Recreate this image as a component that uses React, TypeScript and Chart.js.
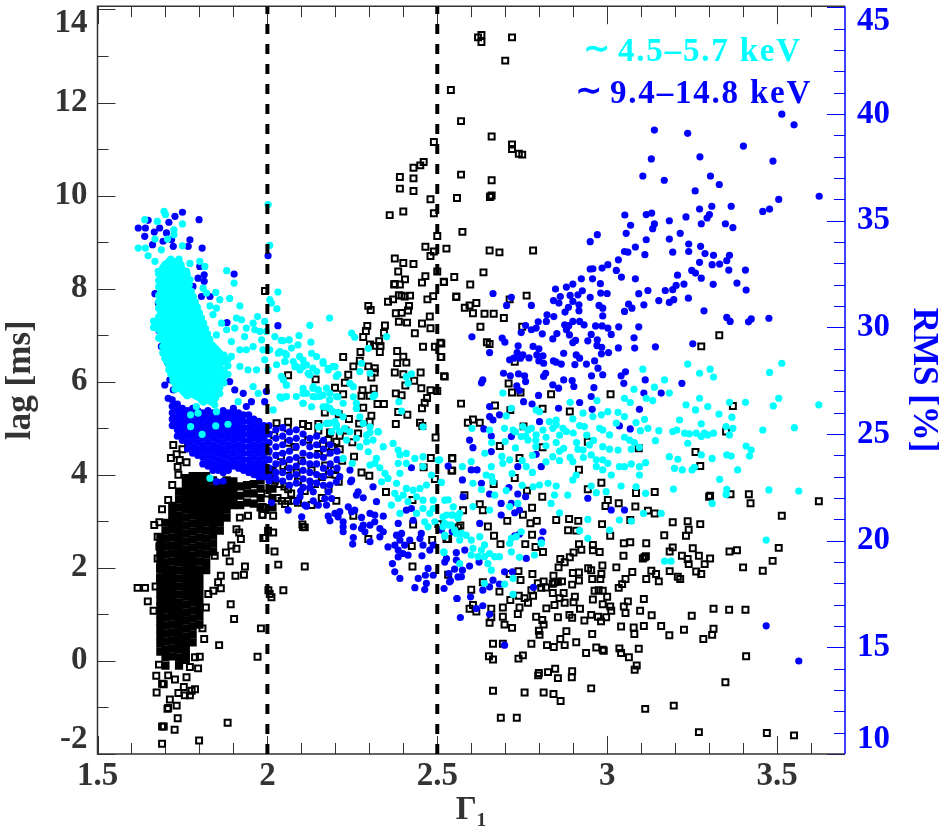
import React, { useEffect, useRef } from "react";
import { Chart, registerables } from "chart.js";

Chart.register(...registerables);

const gammaTicks = [1.5,1.6,1.7,1.8,1.9,2,2.1,2.2,2.3,2.4,2.5,2.6,2.7,2.8,2.9,3,3.1,3.2,3.3,3.4,3.5,3.6];
const lagTicks = [-2,-1,0,1,2,3,4,5,6,7,8,9,10,11,12,13,14];
const rmsTicks = [10,11,12,13,14,15,16,17,18,19,20,21,22,23,24,25,26,27,28,29,30,31,32,33,34,35,36,37,38,39,40,41,42,43,44,45];
const boundaries = [2, 2.5];
const legendLabels = [["∼", "4.5–5.7 keV"], ["∼", "9.4–14.8 keV"]];

// gamma, lag pairs
const blackScatter = [
2.62,13.4,2.63,13.45,2.63,13.3,2.72,13.4,2.7,12.9,2.54,12.27,2.57,11.6,2.49,11.15,2.66,11.27,2.72,11.1,2.72,11,2.74,10.9,2.75,10.88,2.46,10.72,2.45,10.65,2.43,10.6,2.39,10.4,2.43,10.37,2.57,10.45,2.66,10.33,2.39,10.15,2.43,10.1,2.66,10,2.655,9.97,2.558,9.95,2.656,9.98,2.48,9.92,2.4,9.66,2.36,9.58,2.49,9.62,2.574,9.22,2.5,9.13,2.527,8.86,2.654,8.82,2.683,8.78,2.782,8.82,2.465,8.9,2.49,8.8,2.48,8.7,2.375,8.65,2.4,8.55,2.385,8.37,2.43,8.53,2.5,8.37,2.636,8.35,2.55,8.25,2.519,8.15,2.597,8.09,2.405,8.2,2.465,8.27,2.375,8.1,2.395,7.85,2.42,7.85,2.556,7.82,2.713,7.77,2.763,7.85,2.615,7.69,2.595,7.64,2.581,7.59,2.605,7.47,2.639,7.46,2.666,7.46,2.696,7.37,2.627,7.18,2.75,7.18,3.33,7,2.646,6.85,2.654,6.81,2.512,6.82,3.277,6.76,2.728,6.43,2.512,6.53,
1.993,7.95,2.373,8.09,2.39,8.09,2.455,8.13,2.52,8.14,2.556,7.83,2.488,7.84,2.471,7.77,2.387,7.86,2.404,7.83,2.355,7.72,2.37,7.77,2.297,7.63,2.304,7.54,2.417,7.63,2.414,7.53,2.378,7.47,2.395,7.48,2.478,7.4,2.387,7.29,2.411,7.27,2.455,7.25,2.48,7.15,2.294,7.2,2.29,7.09,2.346,7.21,2.343,7.05,2.282,6.96,2.434,7.04,2.329,6.87,2.333,6.77,2.314,6.77,2.302,6.8,2.509,6.84,2.458,6.75,2.493,6.75,2.382,6.66,2.331,6.64,2.274,6.64,2.223,6.53,2.4,6.54,2.51,6.53,2.272,6.45,2.382,6.4,2.409,6.41,2.253,6.33,2.297,6.33,2.316,6.29,2.316,6.2,2.375,6.2,2.4,6.16,2.451,6.2,2.522,6.11,2.238,6.15,2.306,6.09,2.061,6.14,2.142,6.05,2.228,5.98,2.432,6.02,2.406,5.92,2.453,5.86,2.48,5.82,2.5,5.8,2.313,5.85,2.28,5.82,2.277,5.7,2.301,5.7,2.378,5.75,2.395,5.71,2.199,5.87,2.47,5.65,2.463,5.55,2.455,5.43,2.324,5.52,2.343,5.52,2.282,5.44,2.385,5.35,2.412,5.29,2.306,5.27,2.301,5.14,2.378,5.09,2.449,5.12,2.456,5.05,2.027,5.11,2.061,5.14,2.105,5.09,2.267,4.89,2.495,4.8,2.213,4.84,2.15,5.09,2.184,4.91,1.993,4.94,2.169,5.34,2.223,5.73,
2.52,6.12,2.71,5.96,2.72,5.77,2.745,5.77,2.835,5.73,3.01,5.73,2.57,5.53,2.67,5.49,2.715,5.39,2.81,5.42,2.89,5.36,3.37,5.48,2.59,5.12,2.605,5.19,2.625,5.12,2.754,5.04,3.35,4.93,2.684,4.62,2.81,4.59,2.943,4.71,3.093,4.57,3.26,4.49,2.544,4.35,2.742,4.36,2.542,4.09,3.274,4.19,2.917,4.11,2.728,3.93,2.666,3.8,2.983,3.83,2.764,3.66,2.943,3.69,3.085,3.61,3.14,3.63,2.58,3.56,2.809,3.53,3.3,3.53,3.303,3.55,3.363,3.58,3.417,3.58,3.422,3.39,3.002,3.46,2.995,3.33,3.034,3.39,3.083,3.32,3.12,3.23,3.14,3.17,3.623,3.43,2.625,3.37,2.634,3.24,2.576,3.24,2.779,3.29,2.752,3.14,3.514,3.12,2.85,3.03,2.888,3.05,2.915,3.01,2.706,3.01,2.774,2.96,2.793,3.01,3.068,3.03,2.985,2.94,3.193,2.98,3.237,3,3.274,2.94,2.649,2.89,2.568,2.91,2.885,2.81,2.909,2.8,3.24,2.82,3.168,2.7,3.232,2.69,3.009,2.69,2.667,2.69,2.779,2.71,2.527,2.62,3.049,2.53,3.068,2.55,3.115,2.53,2.917,2.51,2.958,2.49,2.759,2.51,2.686,2.51,2.789,2.45,3.193,2.44,3.252,2.42,3.505,2.43,3.36,2.35,3.382,2.38,2.924,2.39,2.901,2.33,2.958,2.38,2.978,2.34,2.811,2.34,3.184,2.35,3.048,2.26,3.22,2.26,3.27,2.26,2.89,2.23,2.862,2.19,3.11,2.23,3.105,2.2,3.114,2.25,3.237,2.19,3.303,2.2,3.487,2.15,2.875,2.12,2.857,2.01,3.24,2.08,3.287,2.08,2.986,2.05,3.027,2.01,2.944,1.99,2.953,1.95,3.4,2.01,3.458,1.94,3.184,1.93,3.262,1.92,3.277,1.87,3.13,1.94,3.074,1.91,2.899,1.89,2.917,1.9,2.983,1.87,2.739,1.93,2.78,1.87,2.842,1.83,2.713,1.87,3.144,1.87,3.115,1.76,3.208,1.81,3.215,1.76,3.054,1.76,2.956,1.76,2.98,1.76,2.917,1.73,3.152,1.71,2.745,1.74,2.845,1.69,2.84,1.66,2.855,1.7,2.813,1.71,2.796,1.67,2.867,1.71,2.897,1.64,3.044,1.65,3.034,1.57,2.82,1.58,2.806,1.57,2.777,1.52,2.84,1.46,2.872,1.46,2.963,1.51,2.987,1.51,2.975,1.52,2.6,1.53,2.683,1.49,2.634,1.69,2.74,1.4,2.757,1.35,2.782,1.4,3,1.38,2.905,1.38,2.86,1.35,3.108,1.33,2.958,1.32,3.061,1.28,2.715,1.31,2.987,1.22,3.009,1.17,2.901,1.26,2.875,1.25,2.767,1.25,2.845,1.2,3.049,1.17,3.313,1.12,3.359,1.1,3.407,1.1,3.097,1.08,2.92,1.12,2.821,1.13,2.742,1.15,2.693,1.15,2.659,1.12,2.595,1.12,2.615,1.06,2.605,1.2,3.054,1.03,3.012,1.08,3.131,0.98,3.249,0.97,2.737,1.01,2.659,0.94,2.693,0.95,2.791,0.95,2.855,0.94,2.889,0.99,2.897,0.93,2.953,0.99,2.973,0.95,2.997,0.94,2.809,0.88,2.933,0.87,2.982,0.85,2.654,0.82,2.698,0.78,2.72,0.71,2.813,0.78,3.041,0.74,3.078,0.72,3.108,0.75,3.159,0.75,3.313,0.69,3.226,0.67,2.799,0.65,2.88,0.64,3.08,0.58,2.956,0.58,3.183,0.55,3.309,0.56,2.801,0.56,3.283,0.47,2.862,0.47,2.909,0.4,2.875,0.34,2.664,0.37,2.693,0.37,2.777,0.37,2.823,0.34,2.843,0.3,2.968,0.29,2.987,0.24,2.99,0.22,3.036,0.27,3.041,0.17,3.093,0.26,2.938,0.17,3.064,0.08,2.652,0.1,2.664,0.03,2.752,0.12,2.739,0.05,3.409,0.1,3.087,-0.1,3.081,-0.19,2.847,-0.17,2.799,-0.26,2.797,-0.31,2.826,-0.24,2.897,-0.22,2.896,-0.35,2.855,-0.37,3.348,-0.46,2.664,-0.64,2.757,-0.68,2.813,-0.68,2.842,-0.71,2.953,-0.59,2.863,-0.86,3.196,-0.96,3.112,-1.03,2.687,-1.22,2.734,-1.22,3.27,-1.53,3.47,-1.55,3.55,-1.6,
1.723,4.64,1.75,4.55,1.767,4.64,1.733,4.44,1.716,4.36,1.742,4.32,1.762,4.27,1.736,4.17,1.738,4,1.72,3.78,1.708,3.46,1.69,3.26,1.667,2.92,1.682,2.98,1.677,2.67,1.682,2.46,1.677,2.2,1.684,2,1.684,1.78,1.671,1.6,1.618,1.57,1.64,1.57,1.648,1.28,1.665,1.08,1.681,-0.08,1.673,-0.32,1.69,-0.49,1.695,-0.5,1.674,-0.68,1.708,-0.31,1.728,-0.4,1.762,-0.35,1.713,-0.83,1.733,-0.96,1.708,-1.01,1.738,-0.69,1.757,-0.74,1.754,-0.56,1.772,-0.74,1.787,-0.61,1.777,-0.64,1.796,-0.16,1.772,-0.13,1.787,0.08,1.801,0.09,1.747,0.05,1.971,0.09,1.858,0.34,1.814,0.47,1.809,0.7,1.981,0.7,1.902,0.9,1.892,1.22,1.819,1.15,1.826,1.44,1.841,1.51,1.863,1.56,1.855,1.69,1.906,1.83,1.931,1.85,1.934,2.03,1.863,1.83,1.889,2.14,1.909,2.41,1.878,2.33,1.894,2.48,1.845,2.26,1.922,2.62,1.909,2.83,1.917,2.76,1.988,2.64,1.994,2.64,1.919,3.08,1.943,3.12,1.985,3.14,1.706,-1.03,1.736,-1.23,1.69,-1.41,1.695,-1.41,1.727,-1.48,1.883,-1.33,1.69,-1.78,1.799,-1.71,
2.203,4.71,2.061,4.69,2.164,4.66,2.213,4.55,2.169,4.48,2.255,4.39,2.481,4.36,2.544,4.36,2.277,4.05,2.3,3.98,2.196,4.1,2.181,4.01,2.46,4.16,2.544,4.09,2.493,3.91,2.047,4.19,2.086,4.05,2.022,3.87,2.037,3.8,2.061,3.69,2.349,3.63,2.203,3.44,2.427,3.46,2.042,3.44,2.061,3.44,2.076,3.44,2.052,3.37,1.986,3.31,1.986,3.14,2.017,3.12,2.253,3.12,2.105,2.88,2.11,2.87,2.103,2.93,2.017,2.76,2.002,2.8,1.993,2.64,2.429,2.93,2.503,2.94,2.485,2.6,2.532,2.62,2.561,2.87,2.297,2.62,2.425,2.47,2.021,2.35,2.032,2.07,2.11,2.03,2.427,2.03,2.532,1.85,2.003,1.52,2.012,1.37,2.047,1.52,2.007,1.44,
2,3.6,2.01,4.05,2.03,3.5,2.04,4.4,2.05,3.75,2.06,4.1,2.07,3.6,2.08,4.6,2.09,3.85,2.1,4.3,2.11,3.65,2.12,4.75,2.13,4.1,2.14,3.8,2.15,4.45,2.16,3.95,2.17,4.2,2.18,3.7,2.19,4.6,2.2,4,2.21,3.85,2.22,4.3,2.12,5.05,2.15,4.95,2.18,4.75,2.06,5,2.02,4.85,2,4.5,2.09,3.4,2.13,3.35,2.16,3.5,2.23,4.95,2.25,4.7,2.27,5.1,2.24,5.2,2.21,5.3
];

// gamma followed by lag values in the saturated core
const blackCoreColumns = [
[1.685,0.2,0.37,0.54,0.7,0.85,1,1.15,1.3,1.45,1.62,1.79,1.96,2.13,2.3,2.47,2.64],
[1.7,-0.1,0.08,0.25,0.42,0.59,0.76,0.93,1.1,1.27,1.44,1.61,1.78,1.95,2.12,2.29,2.46,2.63,2.8,2.97],
[1.72,0.1,0.27,0.44,0.61,0.78,0.95,1.12,1.29,1.46,1.63,1.8,1.97,2.14,2.31,2.48,2.65,2.82,2.99,3.16,3.33],
[1.74,-0.1,0.07,0.24,0.41,0.58,0.75,0.92,1.09,1.26,1.43,1.6,1.77,1.94,2.11,2.28,2.45,2.62,2.79,2.96,3.13,3.3,3.47,3.64],
[1.76,0.02,0.19,0.36,0.53,0.7,0.87,1.04,1.21,1.38,1.55,1.72,1.89,2.06,2.23,2.4,2.57,2.74,2.91,3.08,3.25,3.42,3.59,3.76,3.93],
[1.78,0.4,0.57,0.74,0.91,1.08,1.25,1.42,1.59,1.76,1.93,2.1,2.27,2.44,2.61,2.78,2.95,3.12,3.29,3.46,3.63,3.8,3.97],
[1.8,0.78,0.95,1.12,1.29,1.46,1.63,1.8,1.97,2.14,2.31,2.48,2.65,2.82,2.99,3.16,3.33,3.5,3.67,3.84,3.97],
[1.82,1.95,2.12,2.29,2.46,2.63,2.8,2.97,3.14,3.31,3.48,3.65,3.82,3.97],
[1.84,2.35,2.52,2.69,2.86,3.03,3.2,3.37,3.54,3.71,3.88],
[1.86,2.8,2.97,3.14,3.31,3.48,3.65,3.82],
[1.88,3.08,3.25,3.42,3.59,3.76,3.88],
[1.9,3.35,3.52,3.69,3.86],
[1.92,3.35,3.55,3.75],
[1.94,3.4,3.6,3.78],
[1.96,3.38,3.6,3.8],
[1.98,3.3,3.5,3.7,3.88],
[2.015,3.3,3.5,3.7,3.9,4.1]
];

// gamma, rms pairs
const blueScatter = [
3.514,40,3.55,39.5,3.139,39.25,3.237,39.1,3.401,38.5,3.13,37.9,3.273,38,3.488,37.8,3.105,37.1,3.168,36.9,3.304,37.1,3.33,36.7,3.259,36.4,3.624,36.15,3.505,36,
3.478,35.55,3.458,35.44,3.308,35.68,3.365,35.68,3.272,35.55,3.052,35.27,3.115,35.29,3.131,35.36,3.301,35.29,3.294,35.13,3.232,35.18,3.183,35,3.139,34.85,3.134,34.63,3.069,34.79,3.277,34.86,3.348,34.86,3.37,34.68,3.056,34.41,2.971,34.35,3.215,34.41,3.183,34.14,3.115,34.11,2.95,34.02,3.24,33.91,3.275,33.8,3.083,33.77,3.051,33.56,3.061,33.53,3.193,33.53,3.24,33.56,3.111,33.41,3.288,33.46,3.313,33.38,3.36,33.38,3.033,33.17,3.352,33.13,3.272,33.05,3.002,32.94,3.309,32.94,3.331,32.97,2.985,32.78,2.95,32.74,2.958,32.75,3.027,32.67,3.249,32.67,3.26,32.55,3.358,32.69,3.407,32.69,3.207,32.45,3.042,32.36,3.083,32.28,3.277,32.31,2.924,32.28,2.957,32.28,2.98,32.05,3.382,32.08,3.312,32.02,3.226,32.03,3.203,31.97,3.193,31.77,3.171,31.73,2.899,32.03,2.88,31.89,2.848,31.8,3.12,31.73,3.409,31.75,2.927,31.72,2.914,31.53,2.981,31.61,3,31.59,3.093,31.58,2.664,31.59,2.862,31.45,2.95,31.41,2.718,31.41,2.891,31.5,2.842,31.26,2.858,31.14,2.899,31.22,2.917,31.06,3.152,31.26,3.196,31.3,3.183,31.17,3.239,31.37,2.704,31.03,2.777,31.03,3.063,31.09,3.073,30.9,3.108,31.06,2.976,31.03,2.987,30.9,2.886,30.94,2.876,30.72,2.917,30.78,3.051,30.75,3.285,30.78,2.823,30.59,2.843,30.51,2.987,30.54,3.352,30.47,3.362,30.28,3.476,30.43,3.424,30.4,3.416,30.26,2.797,30.26,2.821,30.28,2.919,30.28,2.899,30.28,2.875,30.12,2.887,30.08,2.932,30.12,2.76,30.09,2.791,29.97,2.777,29.89,2.966,30.07,2.985,30.07,3.002,29.97,3.034,30.03,3.093,30.03,2.88,29.89,2.889,29.65,2.747,29.76,2.809,29.7,2.852,29.71,3.012,29.67,2.953,29.67,2.602,29.56,3.079,29.51,2.84,29.46,2.691,29.5,2.699,29.31,2.943,29.37,2.899,29.29,2.907,29.39,2.971,29.42,3.252,29.23,2.738,29.14,2.782,29.11,2.799,29,2.97,29.15,2.984,29.07,3.142,29.09,3.081,29.03,3.033,29.04,2.735,28.82,2.654,28.82,3.004,28.82,2.872,28.79,2.983,28.76,2.752,28.71,2.745,28.56,2.793,28.71,2.811,28.67,2.909,28.71,2.919,28.56,2.77,28.57,2.713,28.48,2.725,28.56,2.799,28.43,2.813,28.32,2.842,28.43,2.85,28.37,2.963,28.43,2.865,28.28,2.905,28.26,2.939,28.28,2.973,28.09,
2.695,27.85,2.715,27.73,2.739,27.82,2.757,27.73,2.76,27.46,2.634,27.54,2.63,27.4,2.819,27.85,2.813,27.7,2.84,27.31,2.857,27.15,2.872,27.54,2.897,27.51,2.902,27.23,2.954,27.73,2.987,27.78,3.041,27.73,3.054,27.92,3.049,27.38,3.112,27.54,3.22,27.38,2.961,27.18,2.734,27.26,2.742,27.04,2.798,26.81,2.953,26.76,3.108,26.92,3.159,26.92,2.754,26.52,2.779,26.41,2.919,26.48,2.654,26.29,2.956,26.16,2.857,26.21,3.095,26.16,2.683,25.9,2.654,25.82,2.664,25.66,2.801,25.58,2.637,25.24,2.659,24.91,2.595,24.72,2.605,24.36,2.659,24.18,3.036,25.38,3.068,25.24,2.718,24.88,2.791,24.05,2.806,23.47,2.6,23.32,2.617,23.32,2.532,23.5,2.737,23.47,2.574,22.85,2.63,22.69,2.711,22.49,2.737,22.19,2.76,22.06,2.654,22.19,2.943,21.99,3.012,21.44,3.051,21.44,2.688,21.75,2.718,21.75,2.728,21.31,2.742,21.44,2.688,21.2,2.576,22.06,2.625,20.81,2.512,20.5,2.544,20.42,2.742,20.31,2.728,20.23,2.811,20.42,2.806,20.03,2.762,19.17,2.522,19,2.556,19.44,2.581,19.56,2.551,18.67,2.534,18.46,2.574,18.62,2.595,18.81,2.623,19,2.571,18.31,2.536,18.07,2.698,18.54,2.721,18.54,2.664,18.15,2.683,17.96,2.654,17.84,2.634,17.68,2.783,17.81,2.52,17.76,2.558,17.29,2.598,17.37,2.634,16.95,2.615,16.82,2.654,16.55,2.568,16.4,2.698,15.1,3.468,16.01,3.564,14.36,
2.424,23.42,2.243,23.31,2.213,23,2.203,22.76,2.184,22.61,2.248,22.84,2.245,22.76,2.311,22.53,2.267,22.29,2.262,22.14,2.282,22.01,2.135,22.29,2.098,22.33,2.179,22.29,2.169,21.98,2.189,21.98,2.096,22.06,2.086,21.83,2.135,21.87,2.15,21.67,2.11,21.67,2.115,21.62,2.174,21.67,2.061,21.43,2.012,21.78,2.321,21.83,2.238,21.59,2.257,21.43,2.248,21.36,2.213,21.36,2.199,21.28,2.179,21.15,2.101,21.12,2.184,20.93,2.208,21.12,2.223,20.89,2.253,20.65,2.277,21.09,2.302,21.28,2.316,21.2,2.341,21.15,2.282,20.73,2.302,20.73,2.316,20.89,2.331,20.57,2.341,20.42,2.223,20.65,2.223,20.42,2.253,20.15,2.251,19.84,2.277,20.57,2.287,20.42,2.302,19.95,2.331,20.18,2.385,20.81,2.38,20.26,2.395,20.34,2.39,20.03,2.404,19.79,2.375,19.79,2.355,19.71,2.385,19.56,2.399,19.4,2.414,19.32,2.385,19.24,2.419,20.03,2.429,20.96,2.453,20.34,2.449,20.1,2.458,19.79,2.488,19.79,2.478,19.56,2.455,19.29,2.368,18.93,2.375,18.54,2.39,18.23,2.444,18.23,2.434,17.8,2.463,17.71,2.473,18.7,2.468,18,2.488,18.38,2.465,18.38,2.539,18.12,2.558,17.29,2.561,18.3,2.527,19.16,2.556,19.09,2.409,21.43,2.424,21.51,
1.62,34.66,1.641,34.66,1.649,35.02,1.728,35.21,1.75,35.4,1.71,34.93,1.799,35.05,1.667,34.47,1.639,34.27,1.683,34.66,1.703,34.43,1.662,33.88,1.693,34.04,1.718,34.11,1.723,33.8,1.772,34.11,1.767,33.8,1.808,33.72,1.902,32.5,1.796,32.31,1.814,32.47,1.814,32.16,1.781,31.92,1.801,32.86,1.831,31.45,1.806,31.45,1.742,32.86,1.669,31.58,1.679,31.14,1.681,29.84,1.688,29.11,1.706,28.35,1.698,27.3,1.713,27.54,2.031,30.08,1.881,30.23,2.002,33.36,1.865,28.48,1.889,27.46,1.904,27.07,1.929,26.91,1.997,27,1.953,26.52,1.992,26.52,1.938,26.29,1.723,27.07,1.708,26.68,1.742,25.35,1.85,22.77,1.87,22.8
];

// gamma followed by rms values in the saturated band
const blueDenseColumns = [
[1.72,26.6,26.3,26,25.7,25.4],
[1.735,26.4,26.1,25.8,25.5,25.2,24.9],
[1.75,26.2,25.9,25.6,25.3,25,24.7],
[1.765,26.1,25.8,25.5,25.2,24.9,24.6,24.3],
[1.78,26.2,25.9,25.6,25.3,25,24.7,24.4,24.1],
[1.795,26.1,25.8,25.5,25.2,24.9,24.6,24.3,24],
[1.81,26,25.7,25.4,25.1,24.8,24.5,24.2,23.9,23.6],
[1.825,26.1,25.8,25.5,25.2,24.9,24.6,24.3,24,23.7,23.5],
[1.84,26,25.7,25.4,25.1,24.8,24.5,24.2,23.9,23.6,23.3],
[1.855,25.9,25.6,25.3,25,24.7,24.4,24.1,23.8,23.5,23.3],
[1.87,26.1,25.8,25.5,25.2,24.9,24.6,24.3,24,23.7,23.4,23.2],
[1.885,26,25.7,25.4,25.1,24.8,24.5,24.2,23.9,23.6,23.3],
[1.9,26.2,25.9,25.6,25.3,25,24.7,24.4,24.1,23.8,23.5],
[1.915,26,25.7,25.4,25.1,24.8,24.5,24.2,23.9,23.6,23.4],
[1.93,25.9,25.6,25.3,25,24.7,24.4,24.1,23.8,23.5,23.3],
[1.945,25.9,25.6,25.3,25,24.7,24.4,24.1,23.8,23.5,23.2],
[1.96,25.7,25.4,25.1,24.8,24.5,24.2,23.9,23.6,23.3,23.1],
[1.975,25.6,25.3,25,24.7,24.4,24.1,23.8,23.5,23.2,23],
[1.99,25.4,25.1,24.8,24.5,24.2,23.9,23.6,23.3,23],
[2.005,25.4,25,24.6,24.2,23.8,23.4,23,22.8],
[2.025,25.2,24.8,24.4,24,23.6,23.2,22.9],
[2.045,25.3,24.9,24.5,24.1,23.7,23.2,22.8],
[2.065,25.1,24.7,24.2,23.8,23.4,23,22.6],
[2.085,25.2,24.8,24.4,23.9,23.5,23.1,22.7],
[2.105,25,24.6,24.1,23.7,23.3,22.9,22.5],
[2.125,24.8,24.4,24,23.6,23.2,22.8,22.5],
[2.145,24.9,24.5,24,23.6,23.1,22.7],
[2.165,24.7,24.3,23.9,23.4,23,22.6],
[2.185,24.5,24.1,23.6,23.2],
[2.205,24.2,23.8,23.4]
];

// gamma, rms pairs
const cyanScatter = [
1.639,35.05,1.696,35.44,1.7,35.29,1.676,34.97,1.75,34.85,1.725,34.58,1.725,34.35,1.669,34.14,1.706,34.14,1.62,33.72,1.641,33.72,1.649,33.36,1.688,33.64,1.75,33.83,2.002,35.76,2.007,33.85,1.88,32.66,1.902,32.08,1.816,32.86,1.801,33.1,1.669,33.1,1.679,32.63,1.772,33,1.762,32.63,1.772,32.24,2.031,31.66,1.848,31.64,2.007,31.3,2.012,31.14,1.889,31.36,1.86,31.3,2.028,30.87,1.919,31.01,1.831,31.01,1.85,30.9,1.84,30.6,1.811,31.84,1.821,31.61,2.183,30.44,1.971,30.51,2.125,30.1,1.865,30.2,1.909,30.44,1.924,30.36,1.904,29.97,1.938,29.97,1.958,30.2,1.963,29.89,1.933,29.57,1.992,30.28,1.978,29.81,1.997,29.81,1.983,29.42,2.022,29.57,2.093,29.62,2.064,29.42,2.041,29.39,2.128,29.31,1.894,29.34,1.88,29.89,1.85,29.65,2.071,29.03,2.09,29.18,2.051,28.79,2.032,28.79,2.007,28.95,1.987,28.95,1.958,29.1,1.938,28.95,1.919,28.95,1.894,28.64,1.919,28.17,1.943,28.01,1.968,28.01,2.002,28.01,1.992,28.48,2.027,28.25,2.051,28.4,2.041,27.7,2.056,27.3,2.095,28.64,2.085,28.17,2.105,28.17,2.13,28.79,2.134,28.09,2.12,27.85,2.164,28.32,2.193,28.17,2.203,27.7,2.179,28,1.958,27.23,1.973,26.91,2.041,26.68,2.056,26.76,2.105,26.91,2.085,26.76,2.105,26.44,2.134,27.15,2.149,27.07,2.174,27.15,2.134,26.76,2.154,26.76,2.183,26.6,2.203,26.76,2.174,26.29,2.193,26.05,2.154,25.35,2.183,25.51,2.203,25.43,1.728,27.1,1.774,25.9,1.848,25.38,1.808,24.99,1.85,26.05,1.845,26.37,1.791,26.29,1.796,25.98,1.884,25.46,1.774,25.35,1.914,26.52,2.017,26.13,1.831,22.93,
2.248,29.73,2.257,29.54,2.297,29.02,2.351,29.57,2.277,28.32,2.272,27.93,2.302,27.85,2.409,27.69,2.424,27.82,2.414,27.38,2.316,26.83,2.311,26.75,2.387,26.52,2.395,26.08,2.458,25.34,2.045,29.38,2.064,29.41,2.037,28.87,2.056,28.71,2.052,28.4,2.076,28.4,2.105,28.47,2.115,28.24,2.096,28,2.145,27.93,2.125,27.77,2.081,28.16,2.145,28.63,2.164,28.4,2.179,28.08,2.199,28.16,2.208,27.8,2.047,27.54,2.056,27.3,2.037,26.75,2.054,26.75,2.105,27.14,2.115,26.91,2.135,27.22,2.15,27.07,2.164,26.83,2.184,26.91,2.14,26.75,2.105,26.44,2.13,26.28,2.164,26.28,2.184,26.2,2.208,26.75,2.223,26.44,2.253,27.22,2.243,27.38,2.262,26.44,2.253,26.75,2.208,26.02,2.223,25.81,2.199,25.58,2.174,25.5,2.15,25.34,2.203,25.34,2.228,25.27,2.262,26.2,2.272,25.81,2.282,25.5,2.302,25.34,2.326,25.11,2.292,24.95,2.189,25.11,2.213,25.11,2.243,25.11,2.302,25.07,2.326,25.11,
2.233,24.72,2.262,24.8,2.292,24.64,2.311,24.72,2.272,24.41,2.297,24.17,2.321,23.86,2.341,24.41,2.37,24.56,2.385,24.25,2.39,24.02,2.409,24.09,2.434,23.86,2.458,23.94,2.503,23.78,2.316,23.63,2.331,23.42,2.346,23.16,2.355,22.92,2.336,22.76,2.385,23.63,2.409,23.63,2.39,23.16,2.38,22.69,2.409,22.45,2.429,22.37,2.449,22.45,2.468,22.61,2.512,22.73,2.375,22.22,2.385,21.98,2.4,22.14,2.414,21.83,2.439,22.06,2.458,21.9,2.365,21.67,2.39,21.28,2.439,21.28,2.458,21.51,2.488,21.9,2.488,21.51,2.522,21.9,2.547,21.59,2.478,21.28,2.517,21.12,2.542,21.2,2.566,21.28,2.463,20.89,2.473,20.65,2.493,20.89,2.517,20.65,2.542,20.73,2.556,20.34,2.522,20.21,2.52,19.45,2.566,20.03,2.483,23.08,2.458,23.47,2.25,23.63,2.302,23.55,2.223,23.86,
3.237,28.28,3.514,28.32,3.272,27.85,3.303,28.04,3.313,27.67,3.478,27.89,3.169,27.54,3.139,27.2,3.079,27.1,3.105,28.04,3.183,26.92,2.693,26.92,3.115,26.68,3.134,26.57,3.051,26.68,3.068,26.48,2.97,26.57,2.891,26.49,3.272,26.68,3.232,26.37,3.26,26.13,3.296,26.29,3.407,26.49,3.505,26.68,3.489,26.32,3.623,26.37,3.36,26.49,3.329,25.94,3.367,25.79,3.213,25.66,3.277,25.48,3.35,25.35,3.37,25.27,3.458,25.19,3.551,25.3,3.193,25.12,3.205,25.19,3.228,25.04,3.242,25.01,3.262,25.04,3.277,24.88,3.286,25.04,3.296,24.96,3.313,25.04,3.36,24.96,3.152,25.16,3.12,25.27,3.098,25.16,3.11,25.69,3.085,25.54,3.051,25.82,3.032,26.02,3.002,26.05,2.983,25.9,2.958,25.82,2.929,25.98,2.899,25.71,2.85,25.66,2.83,25.58,2.801,26.05,2.791,26.13,2.718,26.21,2.703,25.85,2.752,25.35,2.767,25.19,2.777,25.27,2.602,25.27,2.654,25.19,2.698,25.27,2.723,25.19,2.747,24.88,2.767,24.72,2.791,24.96,2.811,25.19,2.84,25.27,2.85,25.43,2.87,25.27,2.88,25.12,2.919,25.4,2.933,25.35,2.978,25.27,2.987,25.19,3.007,24.96,3.027,25.51,3.051,24.85,3.066,24.72,3.08,24.6,3.142,24.69,3.237,24.57,3.095,24.38,3.409,24.44,3.424,24.25,3.419,23.97,3.365,23.97,3.352,24.02,3.277,24.02,3.309,23.86,3.183,23.94,3.208,23.82,3.198,23.39,3.221,23.32,3.25,23.32,3.257,23.44,3.384,23.32,3.331,22.88,3.195,22.42,3.476,22.38,3.564,22.33,3.352,22.41,3.35,22.17,3.113,22.22,3.309,21.75,3.071,24.29,3.032,24.25,3.007,24.29,2.987,24.41,2.948,24.49,2.929,24.25,2.914,24.29,2.872,24.33,2.84,23.94,2.891,23.91,2.899,23.71,2.953,24.02,2.968,23.79,2.987,23.79,3.002,23.63,2.968,23.47,2.987,23.32,3.036,23.47,3.051,23.47,3.071,23.6,3.095,23.47,3.113,23.66,3.012,23.08,3.095,23.08,3.041,22.56,3.085,22.53,2.997,22.3,2.968,22.25,2.953,22.56,2.909,23.08,2.899,22.85,2.884,22.14,2.845,22.14,2.835,21.75,2.86,21.31,2.782,22.53,2.801,22.61,2.826,22.69,2.85,22.56,2.664,22.77,2.644,23.08,2.605,22.69,2.574,23.47,2.6,23.71,2.512,22.74,2.659,23.47,2.693,23.63,2.713,23.79,2.762,23.47,2.669,22.14,2.703,22.35,2.737,21.75,2.713,21.6,2.654,21.44,2.605,21.6,2.532,21.91,2.507,23.79,2.943,21,3.036,20.97,3.071,20.92,3.107,21.28,3.159,21.28,3.007,20.5,2.919,20.47,2.943,20.11,3.468,20.03,2.806,19.87,3.169,19.04,3.188,19.04,
2.527,21.2,2.546,21.2,2.561,21.05,2.522,20.81,2.536,20.73,2.551,20.5,2.571,20.34,2.585,20.26,2.6,20.03,2.522,20.26,2.625,20.19,2.639,19.8,2.605,19.64,2.63,19.56,2.6,19.33,2.566,18.93,2.654,19.4,2.669,19.25,2.683,19.25,2.649,18.93,2.62,19.25,2.639,19.25,2.659,18.62,2.713,19.87,2.718,20.11,2.747,20.42,2.732,20.19,2.718,19.48,2.742,19.22,2.786,19.33,2.806,19.9,2.723,18.23,2.639,18,2.698,17.96,2.723,17.48,2.519,19.48,
2.73,25.1,2.76,24.9,2.79,24.7,2.82,24.85,2.86,24.95,2.9,25.05,2.94,24.95,2.96,24.7,2.79,24.4,2.82,24.45,2.85,24.6,2.86,24.2,2.91,24.6,2.78,24,2.73,24.35,2.7,24.65,2.66,24.6,2.64,24.1,2.69,23.95,2.75,23.75,2.82,23.7,2.86,23.75,2.93,23.9,2.78,23.2,2.72,23.15,2.66,23,2.63,22.4,2.75,22.6
];

// gamma followed by rms values in the saturated cloud
const cyanDenseColumns = [
[1.665,30.3,30],
[1.68,32.5,32.2,31.9,31.5,31.2,30.9,30.5,30.2,29.9,29.5],
[1.686,32.35,32.05,31.7,31.35,31.05,30.7,30.35,30.05,29.7],
[1.692,32.8,32.4,32.1,31.7,31.4,31.1,30.7,30.4,30.1,29.7,29.4,29.1,28.8],
[1.698,32.95,32.6,32.25,31.9,31.55,31.2,30.85,30.55,30.2,29.85,29.5,29.2,28.9,28.55],
[1.704,33,32.7,32.3,32,31.7,31.3,31,30.7,30.3,30,29.7,29.3,29,28.7,28.4],
[1.71,33.1,32.85,32.5,32.15,31.85,31.5,31.15,30.85,30.5,30.15,29.85,29.5,29.15,28.85,28.55,28.2,28],
[1.716,33.2,32.8,32.5,32.2,31.8,31.5,31.2,30.8,30.5,30.2,29.8,29.5,29.2,28.8,28.5,28.2,27.8],
[1.722,33.1,32.65,32.35,32.1,31.65,31.35,31.1,30.65,30.35,30.1,29.65,29.35,29.1,28.65,28.35,28.1,27.65,27.5],
[1.728,33,32.7,32.4,32,31.7,31.4,31,30.7,30.4,30,29.7,29.4,29,28.7,28.4,28,27.7,27.4],
[1.734,33.1,32.85,32.55,32.2,31.85,31.55,31.2,30.85,30.55,30.2,29.85,29.55,29.2,28.85,28.55,28.2,27.85,27.55,27.3],
[1.74,33.2,32.8,32.5,32.2,31.8,31.5,31.2,30.8,30.5,30.2,29.8,29.5,29.2,28.8,28.5,28.2,27.8,27.5,27.2],
[1.746,32.95,32.65,32.35,32.05,31.65,31.35,31.05,30.65,30.35,30.05,29.65,29.35,29.05,28.65,28.35,28.05,27.65,27.35,27.1],
[1.752,32.7,32.4,32,31.7,31.4,31,30.7,30.4,30,29.7,29.4,29,28.7,28.4,28,27.7,27.4,27],
[1.758,32.55,32.25,31.9,31.6,31.3,30.9,30.6,30.3,29.9,29.6,29.3,28.9,28.6,28.3,27.9,27.6,27.3,26.9],
[1.764,32.5,32.2,31.8,31.5,31.2,30.8,30.5,30.2,29.8,29.5,29.2,28.8,28.5,28.2,27.8,27.5,27.2,26.8],
[1.77,32,31.6,31.35,31.05,30.65,30.35,30.05,29.65,29.35,29.05,28.65,28.35,28.05,27.65,27.35,27.05,26.9],
[1.776,31.7,31.4,31,30.7,30.4,30,29.7,29.4,29,28.7,28.4,28,27.7,27.4,27],
[1.782,31.45,31.1,30.85,30.55,30.15,29.85,29.55,29.15,28.85,28.55,28.15,27.85,27.55,27.15,26.85],
[1.788,31.2,30.8,30.5,30.2,29.8,29.5,29.2,28.8,28.5,28.2,27.8,27.5,27.2,26.8],
[1.794,30.95,30.65,30.35,30,29.65,29.35,29,28.65,28.35,28,27.65,27.35,27,26.75],
[1.8,30.7,30.4,30,29.7,29.4,29,28.7,28.4,28,27.7,27.4,27,26.7],
[1.806,30.45,30.15,29.85,29.55,29.2,28.85,28.55,28.15,27.85,27.55,27.15,26.85,26.6],
[1.812,30.2,29.8,29.5,29.2,28.8,28.5,28.2,27.8,27.5,27.2,26.8,26.5],
[1.818,29.95,29.6,29.35,29.1,28.65,28.35,28.05,27.65,27.35,27.05,26.65],
[1.824,29.7,29.4,29,28.7,28.4,28,27.7,27.4,27,26.7],
[1.83,29.45,29.15,28.85,28.55,28.15,27.85,27.55,27.15,26.85,26.55],
[1.836,29.2,28.8,28.5,28.2,27.8,27.5,27.2,26.8,26.5],
[1.842,29.1,28.85,28.55,28.25,27.85,27.55,27.25,26.85,26.6],
[1.848,29,28.7,28.4,28,27.7,27.4,27,26.7],
[1.854,28.9,28.6,28.3,27.9,27.6,27.3,26.95],
[1.86,28.8,28.5,28.2,27.8,27.5,27.2,26.9],
[1.872,28.7,28.4,28,27.7,27.4],
[1.884,28.5,28.2,27.8]
];

const fromPairs = (flat: number[]) => {
  const out: { x: number; y: number }[] = [];
  for (let i = 0; i + 1 < flat.length; i += 2) out.push({ x: flat[i], y: flat[i + 1] });
  return out;
};
const fromColumns = (cols: number[][]) =>
  cols.flatMap(([x, ...ys]) => ys.map((y) => ({ x, y })));

const BLUE = "#0000ff";
const CYAN = "#00ffff";
const DARK = "#333333";
const FONT_FAMILY = '"Liberation Serif", serif';
const tickFont = { family: FONT_FAMILY, size: 33, weight: "bold" as const };
const titleFont = { family: FONT_FAMILY, size: 35, weight: "bold" as const };

const shiftEdgeLabels = (edges: Record<string, number>) => (scale: any) => {
  if (scale.__wrapped) return;
  scale.__wrapped = true;
  const base = scale.getLabelItems.bind(scale);
  scale.getLabelItems = (area: any) =>
    base(area).map((item: any) => {
      const dy = edges[String(item.label)];
      if (!dy) return item;
      const [x, y] = item.options.translation;
      return { ...item, options: { ...item.options, translation: [x, y + dy] } };
    });
};

const clearPadding = (s: any) => {
  s.paddingTop = 0;
  s.paddingBottom = 0;
  s.paddingLeft = 0;
  s.paddingRight = 0;
};

const framePlugin = {
  id: "frame",
  beforeDatasetsDraw(chart: any) {
    const { ctx, chartArea: a, scales } = chart;
    const { left, right, top, bottom } = a;
    ctx.save();
    ctx.lineWidth = 1;
    ctx.strokeStyle = DARK;
    ctx.beginPath();
    for (const v of gammaTicks) {
      const x = Math.round(scales.x.getPixelForValue(v)) + 0.5;
      const len = Math.round(v * 10) % 5 === 0 ? 18 : 11;
      ctx.moveTo(x, bottom);
      ctx.lineTo(x, bottom - len);
      ctx.moveTo(x, top);
      ctx.lineTo(x, top + len);
    }
    for (const v of lagTicks) {
      const y = Math.round(scales.y.getPixelForValue(v)) + 0.5;
      ctx.moveTo(left, y);
      ctx.lineTo(left + (v % 2 === 0 ? 18 : 11), y);
    }
    ctx.stroke();
    ctx.strokeStyle = BLUE;
    ctx.beginPath();
    for (const v of rmsTicks) {
      const y = Math.round(scales.rms.getPixelForValue(v)) + 0.5;
      ctx.moveTo(right, y);
      ctx.lineTo(right - (v % 5 === 0 ? 18 : 11), y);
    }
    ctx.stroke();
    ctx.lineWidth = 1.5;
    ctx.strokeStyle = DARK;
    ctx.beginPath();
    ctx.moveTo(right, top);
    ctx.lineTo(left, top);
    ctx.lineTo(left, bottom);
    ctx.lineTo(right, bottom);
    ctx.stroke();
    ctx.strokeStyle = BLUE;
    ctx.beginPath();
    ctx.moveTo(right, top);
    ctx.lineTo(right, bottom);
    ctx.stroke();
    ctx.restore();
  },
  afterDatasetsDraw(chart: any) {
    const { ctx } = chart;
    ctx.save();
    ctx.textAlign = "left";
    ctx.textBaseline = "alphabetic";
    const rows: [string, number, number, number][] = [
      [CYAN, 583, 618, 61],
      [BLUE, 575, 610, 103],
    ];
    rows.forEach(([color, tx, lx, y], i) => {
      ctx.fillStyle = color;
      ctx.font = 'bold 33px "DejaVu Sans"';
      ctx.fillText(legendLabels[i][0], tx, y - 2);
      ctx.font = `bold 33px ${FONT_FAMILY}`;
      (ctx as any).letterSpacing = "1.8px";
      ctx.fillText(legendLabels[i][1], lx, y);
      (ctx as any).letterSpacing = "0px";
    });
    ctx.restore();
  },
};

export default function App() {
  const ref = useRef<HTMLCanvasElement>(null);
  useEffect(() => {
    const gridOff = { display: false, drawTicks: false };
    const chart = new Chart(ref.current!, {
      type: "scatter",
      data: {
        datasets: [
          ...boundaries.map((g) => ({
            data: [{ x: g, y: -2 }, { x: g, y: 14.07 }],
            showLine: true,
            borderColor: "#000000",
            borderWidth: 4,
            borderDash: [10, 10],
            pointRadius: 0,
            yAxisID: "y",
            order: 0,
          })),
          {
            data: [...fromColumns(cyanDenseColumns), ...fromPairs(cyanScatter)],
            pointStyle: "circle",
            pointRadius: 3.6,
            pointBackgroundColor: CYAN,
            pointBorderWidth: 0,
            yAxisID: "rms",
            order: 1,
          },
          {
            data: [...fromColumns(blueDenseColumns), ...fromPairs(blueScatter)],
            pointStyle: "circle",
            pointRadius: 3.6,
            pointBackgroundColor: BLUE,
            pointBorderWidth: 0,
            yAxisID: "rms",
            order: 2,
          },
          {
            data: fromPairs(blackScatter),
            pointStyle: "rect",
            pointRadius: 4.2,
            pointBackgroundColor: "rgba(0,0,0,0)",
            pointBorderColor: "#000000",
            pointBorderWidth: 2,
            yAxisID: "y",
            order: 3,
          },
          {
            data: fromColumns(blackCoreColumns),
            pointStyle: "rect",
            pointRadius: 5.8,
            pointBackgroundColor: "#000000",
            pointBorderWidth: 0,
            yAxisID: "y",
            order: 4,
          },
        ],
      },
      options: {
        animation: false,
        responsive: false,
        devicePixelRatio: 1,
        events: [],
        layout: { padding: { top: 6, left: 0, right: 0, bottom: 0 } },
        plugins: { legend: { display: false }, tooltip: { enabled: false } },
        scales: {
          x: {
            type: "linear",
            min: 1.5,
            max: 3.7,
            grid: gridOff,
            border: { display: false },
            afterBuildTicks: (s: any) => { s.ticks = [1.5, 2, 2.5, 3, 3.5].map((value) => ({ value })); },
            afterFit: (s: any) => { s.height = 76; clearPadding(s); },
            ticks: {
              color: DARK,
              font: tickFont,
              padding: 3,
              maxRotation: 0,
              autoSkip: false,
              callback: (v: any) => String(v),
            },
            title: {
              display: true,
              text: "Γ₁",
              color: DARK,
              font: tickFont,
              padding: { top: 0, bottom: 0 },
            },
          },
          y: {
            type: "linear",
            position: "left",
            min: -2,
            max: 14.07,
            grid: gridOff,
            border: { display: false },
            afterBuildTicks: (s: any) => { s.ticks = lagTicks.filter((v) => v % 2 === 0).map((value) => ({ value })); },
            afterFit: (s: any) => { s.width = 97.5; clearPadding(s); },
            afterUpdate: shiftEdgeLabels({ "14": 14, "-2": -15 }),
            ticks: {
              color: DARK,
              font: tickFont,
              padding: 10,
              autoSkip: false,
              callback: (v: any) => String(v),
            },
            title: {
              display: true,
              text: "lag [ms]",
              color: DARK,
              font: titleFont,
              padding: { top: 0, bottom: 0 },
            },
          },
          rms: {
            type: "linear",
            position: "right",
            min: 10,
            max: 45.06,
            grid: gridOff,
            border: { display: false },
            afterBuildTicks: (s: any) => { s.ticks = rmsTicks.filter((v) => v % 5 === 0).map((value) => ({ value })); },
            afterFit: (s: any) => { s.width = 99; clearPadding(s); },
            afterUpdate: shiftEdgeLabels({ "45": 14, "10": -15 }),
            ticks: {
              color: BLUE,
              font: tickFont,
              padding: 12,
              autoSkip: false,
              callback: (v: any) => String(v),
            },
            title: {
              display: true,
              text: "RMS [%]",
              color: BLUE,
              font: titleFont,
              padding: { top: 0, bottom: 0 },
            },
          },
        },
      },
      plugins: [framePlugin],
    } as any);
    return () => chart.destroy();
  }, []);
  return (
    <canvas
      ref={ref}
      width={944}
      height={830}
      style={{ position: "fixed", left: 0, top: 0, width: 944, height: 830, display: "block" }}
    />
  );
}
